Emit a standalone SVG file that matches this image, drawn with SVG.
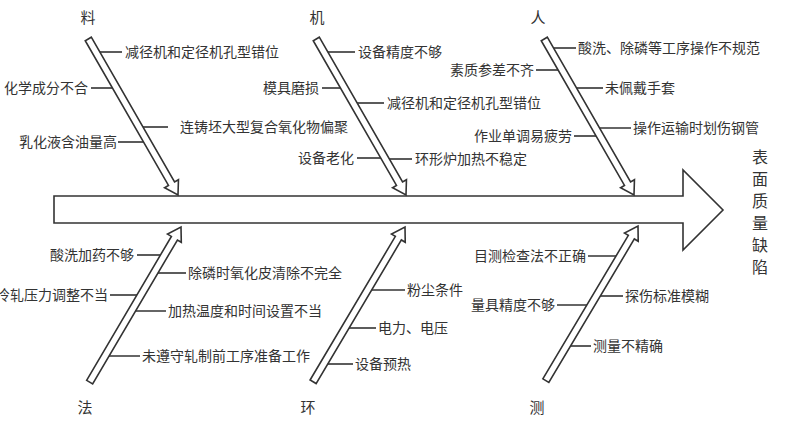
<svg xmlns="http://www.w3.org/2000/svg" width="793" height="440" viewBox="0 0 793 440">
<style>
text{font-family:"Noto Sans CJK SC","Liberation Sans",sans-serif;font-size:14px;fill:#333}
.e{text-anchor:end}
.h{font-size:15px;text-anchor:middle}
.c line{stroke:#333;stroke-width:1.6}
.b{fill:#fff;stroke:#333;stroke-width:1.6;stroke-linejoin:miter}
</style>
<defs>
<polygon id="bone" class="b" points="-180,-3.5 -13,-3.5 -13,-8 0,0 -13,8 -13,3.5 -180,3.5"/>
</defs>
<rect width="793" height="440" fill="#fff"/>
<g id="connectors" class="c">
<line x1="96" y1="52" x2="122" y2="52"/><line x1="91" y1="88" x2="117" y2="88"/><line x1="139" y1="127" x2="168" y2="127"/><line x1="118" y1="142" x2="148" y2="142"/>
<line x1="324" y1="52" x2="355" y2="52"/><line x1="322" y1="88" x2="345" y2="88"/><line x1="353" y1="103" x2="384" y2="103"/><line x1="357" y1="158" x2="385" y2="158"/><line x1="385" y1="159" x2="412" y2="159"/>
<line x1="550" y1="48" x2="576" y2="48"/><line x1="536" y1="70" x2="562" y2="70"/><line x1="572" y1="88" x2="603" y2="88"/><line x1="574" y1="136" x2="600" y2="136"/><line x1="596" y1="128" x2="631" y2="128"/>
<line x1="137" y1="255" x2="165" y2="255"/><line x1="154" y1="273" x2="186" y2="273"/><line x1="110" y1="295" x2="141" y2="295"/><line x1="132" y1="311" x2="166" y2="311"/><line x1="105" y1="356" x2="140" y2="356"/>
<line x1="368" y1="290" x2="405" y2="290"/><line x1="345" y1="328" x2="376" y2="328"/><line x1="324" y1="364" x2="353" y2="364"/>
<line x1="588" y1="256" x2="621" y2="256"/><line x1="597" y1="296" x2="623" y2="296"/><line x1="557" y1="305" x2="591" y2="305"/><line x1="567" y1="346" x2="591" y2="346"/>
</g>
<g id="spine"><polygon class="b" points="54,196 683,196 683,170 723,210 683,250 683,223 54,223"/></g>
<g id="bone-liao"><use href="#bone" transform="translate(178,195) rotate(60.1)"/><text class="h" x="88" y="23">料</text>
<text x="125" y="57">减径机和定径机孔型错位</text><text class="e" x="88" y="93">化学成分不合</text><text x="180" y="132">连铸坯大型复合氧化物偏聚</text><text class="e" x="117" y="147">乳化液含油量高</text></g>
<g id="bone-ji"><use href="#bone" transform="translate(406,195) rotate(60.1)"/><text class="h" x="317" y="23">机</text>
<text x="358" y="57">设备精度不够</text><text class="e" x="319" y="93">模具磨损</text><text x="387" y="108">减径机和定径机孔型错位</text><text class="e" x="354" y="163">设备老化</text><text x="415" y="164">环形炉加热不稳定</text></g>
<g id="bone-ren"><use href="#bone" transform="translate(634,195) rotate(60.1)"/><text class="h" x="538" y="23">人</text>
<text x="578" y="53">酸洗、除磷等工序操作不规范</text><text class="e" x="534" y="75">素质参差不齐</text><text x="605" y="93">未佩戴手套</text><text class="e" x="572" y="141">作业单调易疲劳</text><text x="633" y="133">操作运输时划伤钢管</text></g>
<g id="bone-fa"><use href="#bone" transform="translate(181,227) rotate(-59.5)"/><text class="h" x="85" y="413">法</text>
<text class="e" x="134" y="260">酸洗加药不够</text><text x="188" y="278">除磷时氧化皮清除不完全</text><text class="e" x="108" y="300">冷轧压力调整不当</text><text x="168" y="316">加热温度和时间设置不当</text><text x="142" y="361">未遵守轧制前工序准备工作</text></g>
<g id="bone-huan"><use href="#bone" transform="translate(405,227) rotate(-59.3)"/><text class="h" x="308" y="413">环</text>
<text x="407" y="295">粉尘条件</text><text x="378" y="333">电力、电压</text><text x="355" y="369">设备预热</text></g>
<g id="bone-ce"><use href="#bone" transform="translate(638,226) rotate(-59.2)"/><text class="h" x="537" y="413">测</text>
<text class="e" x="586" y="261">目测检查法不正确</text><text x="625" y="301">探伤标准模糊</text><text class="e" x="555" y="310">量具精度不够</text><text x="593" y="351">测量不精确</text></g>
<g id="effect"><text style="font-size:16px" text-anchor="middle"><tspan x="760" y="163">表</tspan><tspan x="760" y="185">面</tspan><tspan x="760" y="207">质</tspan><tspan x="760" y="229">量</tspan><tspan x="760" y="251">缺</tspan><tspan x="760" y="273">陷</tspan></text></g>
</svg>
